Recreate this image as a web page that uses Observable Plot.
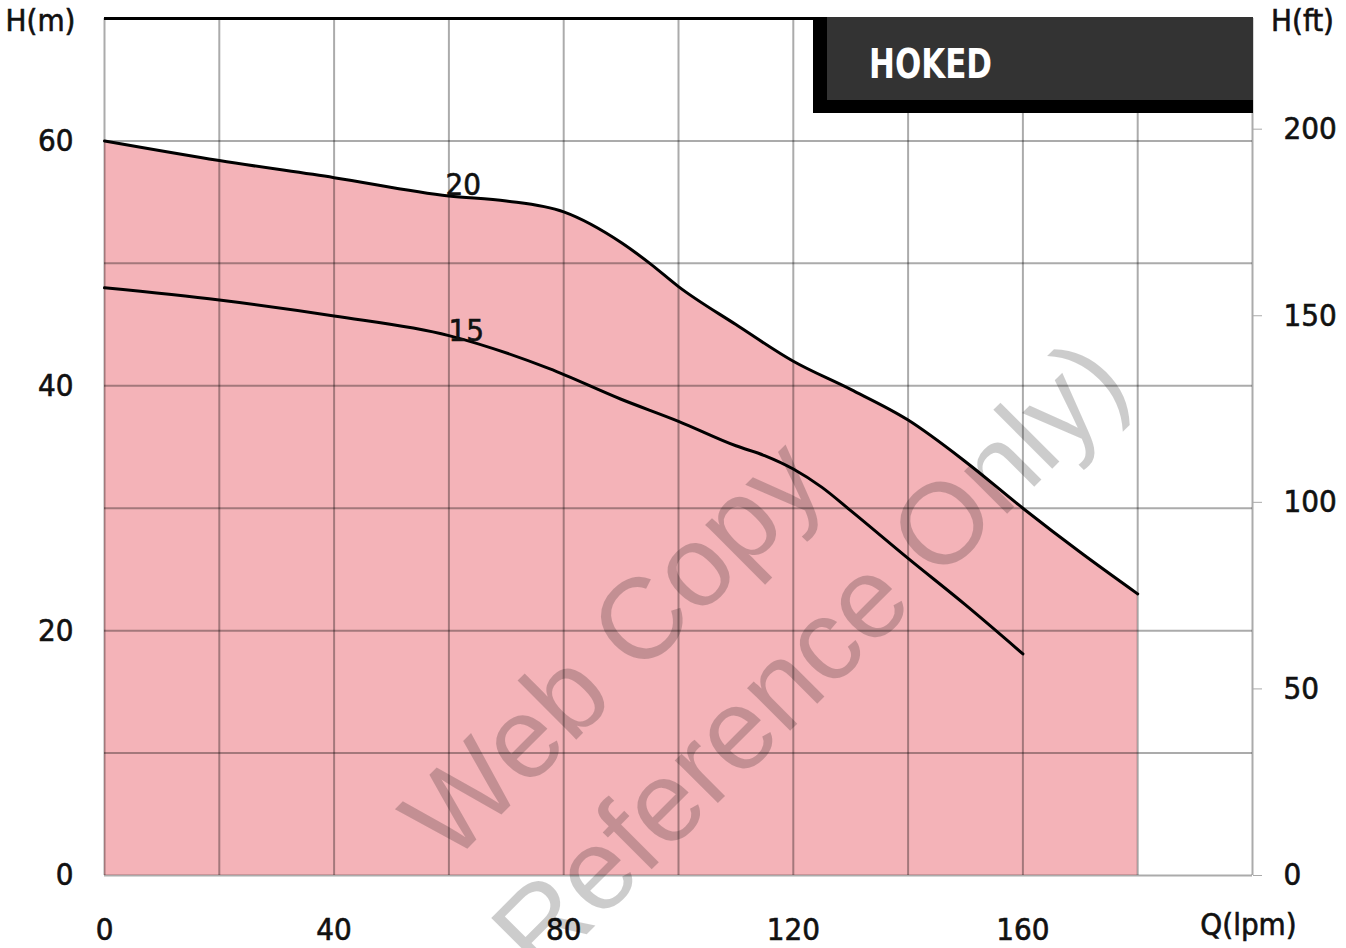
<!DOCTYPE html>
<html><head><meta charset="utf-8">
<script src="https://cdn.jsdelivr.net/npm/d3@7"></script>
<script src="https://cdn.jsdelivr.net/npm/@observablehq/plot@0.6"></script>
<style>
body{margin:0;background:#fff}
#chart{position:relative;width:1346px;height:948px;overflow:hidden}
#badge{position:absolute;left:813px;top:17px;width:440px;height:96px;background:#000}
#badge div{position:absolute;left:14px;top:0;right:0;height:83px;background:#333;overflow:hidden}
#badge span{position:absolute;left:42px;top:27px;color:#fff;font-family:"DejaVu Sans Condensed","DejaVu Sans",sans-serif;
 font-weight:bold;font-size:40px;line-height:40px;transform:scaleX(0.86);transform-origin:left top;white-space:nowrap}
#chart svg g[aria-label$="tick label"] text, #chart svg .lbl text{stroke:#111;stroke-width:0.6px;paint-order:stroke}
</style>
</head><body>
<div id="chart"><div id="badge"><div><span>HOKED</span></div></div></div>
<script>
// Data
const flow20 = [0, 20, 40, 60, 70, 80, 90, 95, 100, 110, 120, 130, 140, 150, 160, 170, 180];
const head20 = [60, 58.4, 57.0, 55.5, 55.1, 54.2, 51.7, 50.0, 48.1, 45.0, 42.0, 39.7, 37.2, 33.8, 30.0, 26.4, 23.0];
const flow15 = [0, 20, 40, 60, 77.5, 90, 100, 110, 115, 120, 125, 130, 140, 150, 160];
const head15 = [48.0, 47.0, 45.7, 44.1, 41.4, 38.9, 37.1, 35.1, 34.3, 33.2, 31.7, 29.8, 25.9, 22.1, 18.1];
const curveNames = ["20", "15"];
const curveLabelQ = [62.5, 63];
const curveLabelH = [56.4, 44.5];
const xTicks = [0, 40, 80, 120, 160];
const xGrid = [0, 20, 40, 60, 80, 100, 120, 140, 160, 180, 200];
const yTicks = [0, 20, 40, 60];
const yGrid = [0, 10, 20, 30, 40, 50, 60];
const ftTicks = [0, 50, 100, 150, 200];
const FT = 0.3048;

const d20 = flow20.map((q, i) => ({q, h: head20[i]}));
const d15 = flow15.map((q, i) => ({q, h: head15[i]}));
const labels = curveNames.map((t, i) => ({t, q: curveLabelQ[i], h: curveLabelH[i]}));

const font = '"DejaVu Sans Condensed","DejaVu Sans",sans-serif';
const wm = '"Liberation Sans",Arial,sans-serif';

const chart = Plot.plot({
  width: 1346, height: 948,
  marginLeft: 104, marginRight: 94, marginTop: 18, marginBottom: 73,
  x: {domain: [0, 200]},
  y: {domain: [0, 70]},
  style: {fontFamily: font, fontSize: "31px", color: "#111", background: "transparent"},
  marks: [
    Plot.areaY(d20, {x: "q", y: "h", fill: "#f4b3b8", curve: "monotone-x"}),
    Plot.gridX(xGrid, {stroke: "#000", strokeOpacity: 0.33, strokeWidth: 2}),
    Plot.gridY(yGrid, {stroke: "#000", strokeOpacity: 0.33, strokeWidth: 2}),
    Plot.ruleY([70], {stroke: "#000", strokeWidth: 3}),
    Plot.lineY(d20, {x: "q", y: "h", stroke: "#000", strokeWidth: 3, curve: "monotone-x"}),
    Plot.lineY(d15, {x: "q", y: "h", stroke: "#000", strokeWidth: 3, curve: "monotone-x"}),
    Plot.text(labels, {x: "q", y: "h", text: "t", fontSize: 31, fill: "#111", lineAnchor: "middle"}),
    Plot.axisX(xTicks, {tickSize: 0, tickPadding: 42, label: null}),
    Plot.axisY(yTicks, {anchor: "left", tickSize: 0, tickPadding: 31, label: null}),
    Plot.axisY(ftTicks.map(f => f * FT), {anchor: "right", tickSize: 9, tickPadding: 22, stroke: "#aaa",
      tickFormat: d => String(Math.round(d / FT)), label: null}),
    Plot.text(["H(m)"], {frameAnchor: "top-left", dx: -64, dy: 3, lineAnchor: "middle", textAnchor: "middle", fill: "#111"}),
    Plot.text(["H(ft)"], {frameAnchor: "top-right", dx: 50, dy: 3, lineAnchor: "middle", textAnchor: "middle", fill: "#111"}),
    Plot.text(["Q(lpm)"], {frameAnchor: "bottom-right", dx: -4, dy: 50, lineAnchor: "middle", textAnchor: "middle", fill: "#111"}),
    Plot.text(["Web Copy"], {frameAnchor: "top-left", dx: 346, dy: 847, rotate: -45, textAnchor: "start", lineAnchor: "bottom",
      fontSize: 115, fontFamily: wm, fill: "#000", fillOpacity: 0.2}),
    Plot.text(["Reference Only)"], {frameAnchor: "top-left", dx: 436, dy: 962, rotate: -45, textAnchor: "start", lineAnchor: "bottom",
      fontSize: 115, fontFamily: wm, fill: "#000", fillOpacity: 0.2})
  ]
});
chart.style.position = "absolute";
chart.style.left = "0";
chart.style.top = "0";
// mark the plain text labels so the CSS can give them the same weight as tick labels
chart.querySelectorAll('g[aria-label="text"]').forEach(g => {
  const t = g.textContent;
  if (!/Web|Reference/.test(t)) g.classList.add("lbl");
});
const holder = document.getElementById("chart");
holder.insertBefore(chart, holder.firstChild);
</script>
</body></html>
